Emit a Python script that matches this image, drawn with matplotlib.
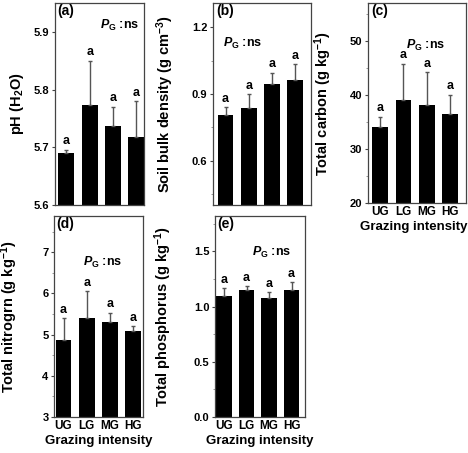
import matplotlib
matplotlib.use("Agg")
import matplotlib.pyplot as plt
from matplotlib.ticker import MultipleLocator

plt.rcParams["font.family"] = ["Liberation Sans", "DejaVu Sans"]
plt.rcParams["font.weight"] = "bold"
plt.rcParams["mathtext.fontset"] = "custom"
plt.rcParams["mathtext.rm"] = "Liberation Sans:bold"
plt.rcParams["mathtext.bf"] = "Liberation Sans:bold"
plt.rcParams["mathtext.it"] = "Liberation Sans:bold:italic"

groups = ["UG", "LG", "MG", "HG"]

ph_mean = [5.690, 5.773, 5.737, 5.717]
ph_err = [0.006, 0.077, 0.033, 0.063]

bd_mean = [0.805, 0.835, 0.945, 0.965]
bd_err = [0.035, 0.065, 0.050, 0.070]

tc_mean = [34.0, 39.0, 38.2, 36.4]
tc_err = [2.0, 6.8, 6.0, 3.6]

tn_mean = [4.87, 5.40, 5.30, 5.08]
tn_err = [0.53, 0.65, 0.23, 0.12]

tp_mean = [1.10, 1.15, 1.075, 1.15]
tp_err = [0.065, 0.035, 0.055, 0.07]

W, H = 468, 453
fig = plt.figure(figsize=(W / 100, H / 100), dpi=100)


def box(l, r, t, b):
    return [l / W, (H - b) / H, (r - l) / W, (b - t) / H]


panels = [
    # label, means, errs, ylabel, box, ylim, major, minor, fmt, xlim, PG pos, ylabel x, xlabel x (None = hidden)
    ("(a)", ph_mean, ph_err, "pH (H$_2$O)", box(55, 144, 3, 205), (5.6, 5.95), 0.1, None,
     "{:.1f}", (-0.49, 3.33), (0.50, 0.89), -0.33, None),
    ("(b)", bd_mean, bd_err, "Soil bulk density (g cm$^{-3}$)", box(213, 311, 3, 205), (0.4, 1.31), 0.3, 0.15,
     "{:.1f}", (-0.54, 3.68), (0.10, 0.80), -0.38, None),
    ("(c)", tc_mean, tc_err, "Total carbon (g kg$^{-1}$)", box(368, 466, 3, 203), (20, 57), 10, 5,
     "{:.0f}", (-0.52, 3.68), (0.39, 0.79), -0.35, 0.465),
    ("(d)", tn_mean, tn_err, "Total nitrogrn (g kg$^{-1}$)", box(54, 143, 216, 417), (3, 7.88), 1, 0.5,
     "{:.0f}", (-0.41, 3.43), (0.33, 0.77), -0.38, 0.5),
    ("(e)", tp_mean, tp_err, "Total phosphorus (g kg$^{-1}$)", box(215, 305, 216, 417), (0, 1.82), 0.5, 0.25,
     "{:.1f}", (-0.40, 3.60), (0.41, 0.82), -0.46, 0.5),
]

for (lab, means, errs, ylab, pos, ylim, major, minor, fmt, xlim, pg, ylx, xlx) in panels:
    ax = fig.add_axes(pos)
    x = range(len(groups))
    ax.bar(x, means, width=0.68, color="black", zorder=2)
    ax.errorbar(x, means, yerr=[[0] * len(errs), errs], fmt="none", ecolor="#555555",
                elinewidth=1, capsize=1.5, capthick=1, zorder=3)
    span = ylim[1] - ylim[0]
    for xi, m, e in zip(x, means, errs):
        ax.text(xi, m + e + span * 0.012, "a", ha="center", va="bottom",
                fontsize=9, fontweight="bold")
    ax.set_xlim(*xlim)
    ax.set_ylim(*ylim)
    ax.yaxis.set_major_locator(MultipleLocator(major))
    if minor:
        ax.yaxis.set_minor_locator(MultipleLocator(minor))
    ax.set_yticks([t for t in ax.get_yticks() if ylim[0] - 1e-9 <= t <= ylim[1]])
    ax.set_yticklabels([fmt.format(t) for t in ax.get_yticks()], fontsize=8, fontweight="bold")
    ax.tick_params(axis="y", which="major", length=2.5, width=0.8, color="#444444", pad=1.5)
    ax.tick_params(axis="y", which="minor", length=1.5, width=0.6, color="#888888")
    ax.set_xticks(list(x))
    if xlx is not None:
        ax.set_xticklabels(groups, fontsize=8.5, fontweight="bold")
        ax.tick_params(axis="x", length=0, pad=2)
        ax.set_xlabel("Grazing intensity", fontsize=9.5, fontweight="bold")
        ax.xaxis.set_label_coords(xlx, -0.088)
    else:
        ax.set_xticklabels([])
        ax.tick_params(axis="x", length=0)
    for s in ax.spines.values():
        s.set_color("#444444")
        s.set_linewidth(0.9)
    ax.set_ylabel(ylab, fontsize=10.5, fontweight="bold")
    ax.yaxis.set_label_coords(ylx, 0.5)
    ax.text(0.03, 0.995, lab, transform=ax.transAxes, ha="left", va="top",
            fontsize=10, fontweight="bold")
    ax.text(pg[0], pg[1], "$P_{\\mathrm{G}}$ :ns", transform=ax.transAxes, ha="left",
            va="center", fontsize=9, fontweight="bold")

fig.savefig("out.png", dpi=100)
